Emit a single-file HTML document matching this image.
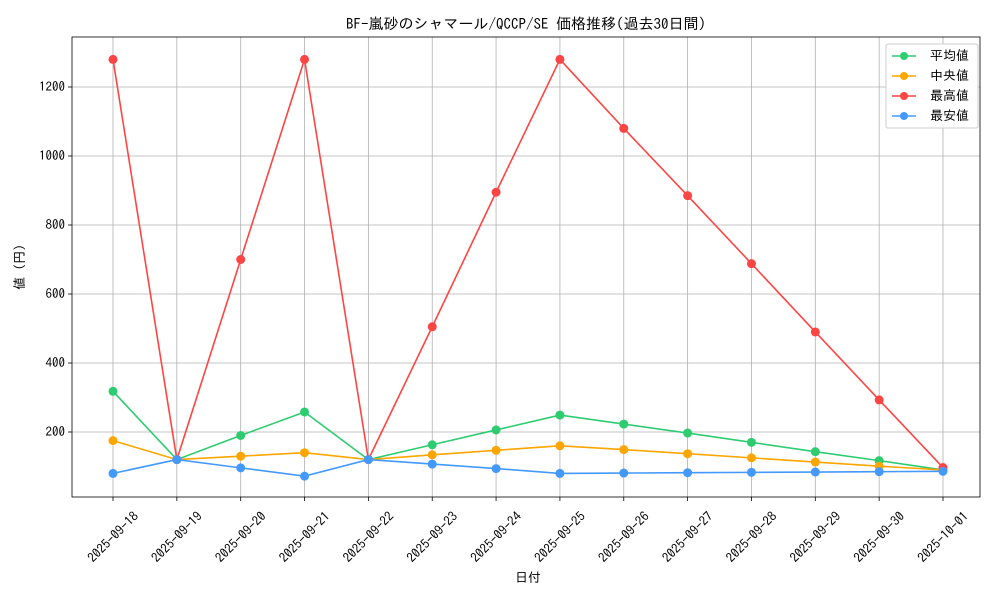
<!DOCTYPE html>
<html><head><meta charset="utf-8"><style>
body{margin:0;background:#fff}
svg{display:block}
text{font-family:"IPAGothic","Liberation Sans","Noto Sans CJK JP",sans-serif;fill:#000}
</style></head><body>
<svg width="1000" height="600" viewBox="0 0 1000 600">
<rect x="0" y="0" width="1000" height="600" fill="#fff"/>
<g id="grid" stroke="#b0b0b0" stroke-width="0.8"></g>
<rect x="72" y="37" width="908" height="460" fill="none" stroke="#000" stroke-width="0.8"/>
<g id="ax"></g>
<g id="series"></g>
<text x="526" y="29" font-size="15" text-anchor="middle">BF-嵐砂のシャマール/QCCP/SE 価格推移(過去30日間)</text>
<text x="528" y="582" font-size="13" text-anchor="middle">日付</text>
<text transform="translate(24,267) rotate(-90)" font-size="13" text-anchor="middle">値 (円)</text>
<g>
<rect x="886" y="44" width="92" height="84" fill="#fff" stroke="#ccc" rx="2"/>
<line x1="892" y1="56" x2="916" y2="56" stroke="#2ecc71" stroke-width="1.5"/><circle cx="904" cy="56" r="4" fill="#2ecc71"/><text x="930" y="60" font-size="13">平均値</text>
<line x1="892" y1="76" x2="916" y2="76" stroke="#ffa500" stroke-width="1.5"/><circle cx="904" cy="76" r="4" fill="#ffa500"/><text x="930" y="80" font-size="13"> 中央値</text>
<line x1="892" y1="96" x2="916" y2="96" stroke="#ff4444" stroke-width="1.5"/><circle cx="904" cy="96" r="4" fill="#ff4444"/><text x="930" y="100" font-size="13">最高値</text>
<line x1="892" y1="116" x2="916" y2="116" stroke="#4499ff" stroke-width="1.5"/><circle cx="904" cy="116" r="4" fill="#4499ff"/><text x="930" y="120" font-size="13">最安値</text>
</g>
</svg>
<script>
const ns="http://www.w3.org/2000/svg";
const X=i=>113+i*63.846, Y=v=>432-(v-200)*0.345;
const g=document.getElementById('grid'),ax=document.getElementById('ax'),s=document.getElementById('series');
function el(p,t,a,txt){const e=document.createElementNS(ns,t);for(const k in a)e.setAttribute(k,a[k]);if(txt!=null)e.textContent=txt;p.appendChild(e);return e;}
const dates=["2025-09-18","2025-09-19","2025-09-20","2025-09-21","2025-09-22","2025-09-23","2025-09-24","2025-09-25","2025-09-26","2025-09-27","2025-09-28","2025-09-29","2025-09-30","2025-10-01"];
dates.forEach((d,i)=>{const x=X(i);el(g,'line',{x1:x,y1:37,x2:x,y2:497});el(ax,'line',{x1:x,y1:497,x2:x,y2:501,stroke:'#000','stroke-width':0.8});
el(ax,'text',{transform:`translate(${x},${537}) rotate(-45)`,'font-size':13,'text-anchor':'middle','dominant-baseline':'central'},d);});
for(let v=200;v<=1200;v+=200){const y=Y(v);el(g,'line',{x1:72,y1:y,x2:980,y2:y});el(ax,'line',{x1:68,y1:y,x2:72,y2:y,stroke:'#000','stroke-width':0.8});
el(ax,'text',{x:65,y:y+4,'font-size':13,'text-anchor':'end'},v);}
const data=[
["#2ecc71",[318,120,190,258,120,163,206,249,223,197,170,143,117,90]],
["#ffa500",[175,120,130,140,120,134,147,160,149,137,125,113,101,90]],
["#ff4444",[1280,120,700,1280,120,505,895,1280,1080,885,688,490,293,97]],
["#4499ff",[80,120,96,72,120,107,94,80,81,82,83,84,85,86]]];
data.forEach(([c,vs])=>{el(s,'polyline',{points:vs.map((v,i)=>X(i)+','+Y(v)).join(' '),fill:'none',stroke:c,'stroke-width':1.6});
vs.forEach((v,i)=>el(s,'circle',{cx:X(i),cy:Y(v),r:4.5,fill:c}));});
</script>
</body></html>
